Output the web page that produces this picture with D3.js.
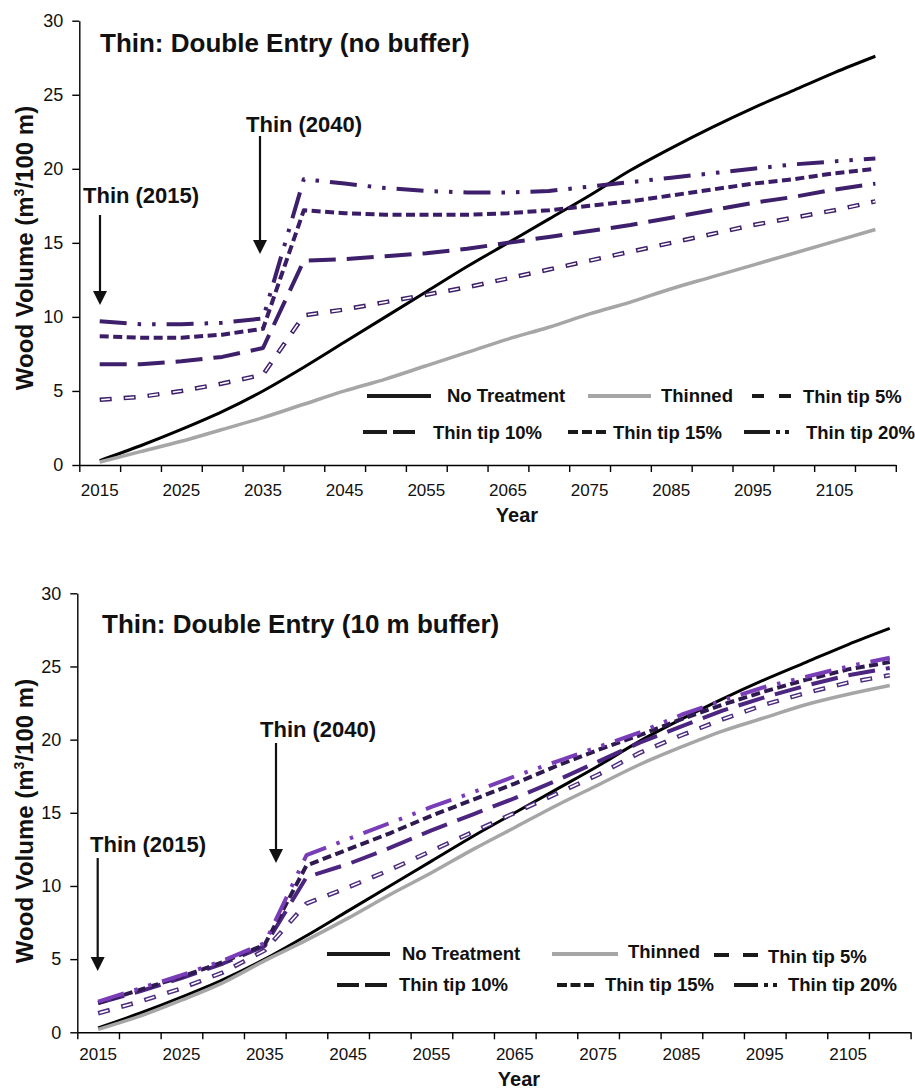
<!DOCTYPE html>
<html>
<head>
<meta charset="utf-8">
<script src="https://cdn.jsdelivr.net/npm/d3@7"></script>
<style>
  body { margin: 0; background: #fff; }
  svg { display: block; }
  text { font-family: "Liberation Sans", Arial, sans-serif; fill: #111; }
</style>
</head>
<body>
<svg id="chart" width="915" height="1089"></svg>
<script>
// ---- data ----
const years = [2015, 2020, 2025, 2030, 2035, 2040, 2045, 2050, 2055, 2060,
               2065, 2070, 2075, 2080, 2085, 2090, 2095, 2100, 2105, 2110];
const labelYears = [2015, 2025, 2035, 2045, 2055, 2065, 2075, 2085, 2095, 2105];
const yTicks = [0, 5, 10, 15, 20, 25, 30];
const seriesNames = ["No Treatment", "Thinned", "Thin tip 5%", "Thin tip 10%", "Thin tip 15%", "Thin tip 20%"];

const noTreatment = [0.3, 1.3, 2.4, 3.6, 5.0, 6.6, 8.3, 10.0, 11.7, 13.4, 15.0, 16.6, 18.2, 19.9, 21.4, 22.8, 24.1, 25.3, 26.5, 27.6];

// no buffer panel
const thinnedA = [0.2, 0.9, 1.6, 2.4, 3.2, 4.1, 5.0, 5.8, 6.7, 7.6, 8.5, 9.3, 10.2, 11.0, 11.9, 12.7, 13.5, 14.3, 15.1, 15.9];
const tip5A  = [4.4, 4.6, 5.0, 5.5, 6.1, 10.1, 10.5, 11.0, 11.5, 12.0, 12.6, 13.2, 13.8, 14.4, 15.0, 15.6, 16.2, 16.7, 17.2, 17.8];
const tip10A = [6.8, 6.8, 7.0, 7.3, 7.9, 13.8, 13.9, 14.1, 14.3, 14.6, 15.0, 15.4, 15.8, 16.2, 16.7, 17.2, 17.7, 18.1, 18.6, 19.0];
const tip15A = [8.7, 8.6, 8.6, 8.8, 9.2, 17.2, 17.0, 16.9, 16.9, 16.9, 17.0, 17.2, 17.5, 17.8, 18.2, 18.6, 19.0, 19.3, 19.7, 20.0];
const tip20A = [9.7, 9.5, 9.5, 9.6, 9.9, 19.3, 19.0, 18.7, 18.5, 18.4, 18.4, 18.5, 18.8, 19.1, 19.4, 19.7, 20.0, 20.3, 20.5, 20.7];

// 10 m buffer panel
const thinnedB = [0.2, 1.1, 2.2, 3.4, 4.9, 6.3, 7.8, 9.4, 10.9, 12.5, 14.0, 15.5, 16.9, 18.3, 19.5, 20.6, 21.5, 22.4, 23.1, 23.7];
const tip5B  = [1.3, 2.1, 3.0, 4.1, 5.6, 8.8, 9.9, 11.1, 12.4, 13.7, 15.0, 16.3, 17.6, 19.1, 20.3, 21.4, 22.4, 23.2, 23.9, 24.4];
const tip10B = [2.0, 2.8, 3.7, 4.7, 5.9, 10.6, 11.5, 12.6, 13.8, 14.9, 16.0, 17.2, 18.5, 19.8, 20.9, 22.0, 22.9, 23.7, 24.4, 24.9];
const tip15B = [2.0, 2.9, 3.8, 4.8, 6.0, 11.4, 12.5, 13.6, 14.8, 15.9, 17.0, 18.2, 19.3, 20.3, 21.4, 22.4, 23.3, 24.1, 24.8, 25.3];
const tip20B = [2.1, 3.0, 3.9, 4.9, 6.1, 12.1, 13.2, 14.3, 15.4, 16.4, 17.5, 18.5, 19.5, 20.5, 21.7, 22.7, 23.6, 24.3, 25.0, 25.6];

// ---- line styles ----
const dashes = {
  "No Treatment": null,
  "Thinned": null,
  "Thin tip 5%": "12,12",
  "Thin tip 10%": "27,11",
  "Thin tip 15%": "9,4.5",
  "Thin tip 20%": "27,11,3.5,11,3.5,11"
};
const widths = {"No Treatment": 3, "Thinned": 3.5, "Thin tip 5%": 4.5, "Thin tip 10%": 4, "Thin tip 15%": 4, "Thin tip 20%": 4};

const svg = d3.select("#chart");
const tickFont = '"Liberation Sans", Arial, sans-serif';

// draws one panel
function drawPanel(p) {
  const g = svg.append("g");

  const x = d3.scaleBand().domain(years).range([p.left, p.right]);
  const xEdges = d3.scaleLinear().domain([0, years.length]).range([p.left, p.right]);
  const y = d3.scaleLinear().domain([0, 30]).range([p.bottom, p.top]);

  // y axis
  const ya = g.append("g")
    .attr("transform", `translate(${p.left},0)`)
    .call(d3.axisLeft(y).tickValues(yTicks).tickSize(7).tickSizeOuter(0).tickPadding(9));
  ya.selectAll("text").attr("font-size", "18px").style("font-family", tickFont);

  // x axis: tick marks between categories
  g.append("g")
    .attr("transform", `translate(0,${p.bottom})`)
    .call(d3.axisBottom(xEdges).tickValues(d3.range(0, years.length + 1)).tickFormat("").tickSize(7).tickSizeOuter(0));
  // x axis labels centred on categories
  const xl = g.append("g")
    .attr("transform", `translate(0,${p.bottom})`)
    .call(d3.axisBottom(x).tickValues(labelYears).tickSize(0).tickPadding(p.labelPad));
  xl.select(".domain").remove();
  xl.selectAll("text").attr("font-size", "17px").style("font-family", tickFont);

  g.selectAll(".domain, .tick line").attr("stroke", "#000").attr("stroke-width", 1.4);
  g.selectAll(".tick text").attr("fill", "#111");

  // lines: smooth for the growth curves, straight segments for the thinning series
  const smooth = d3.line()
    .x((d, i) => x(years[i]) + x.bandwidth() / 2)
    .y(d => y(d))
    .curve(d3.curveMonotoneX);
  const straight = d3.line()
    .x((d, i) => x(years[i]) + x.bandwidth() / 2)
    .y(d => y(d));

  p.series.forEach((vals, k) => {
    const name = seriesNames[k];
    const line = k < 2 ? smooth : straight;
    const path = g.append("path")
      .attr("d", line(vals))
      .attr("fill", "none")
      .attr("stroke", p.colors[k])
      .attr("stroke-width", widths[name])
      .attr("stroke-linejoin", "round");
    if (dashes[name]) path.attr("stroke-dasharray", dashes[name]);
    if (name === "Thin tip 5%") {
      // hollow dashes
      g.append("path")
        .attr("d", line(vals))
        .attr("fill", "none")
        .attr("stroke", "#fff")
        .attr("stroke-width", 1.6)
        .attr("stroke-dasharray", "9,15")
        .attr("stroke-dashoffset", -1.5);
    }
  });

  // title
  g.append("text")
    .attr("x", p.titleX).attr("y", p.titleY)
    .attr("font-size", "26px").attr("font-weight", "bold")
    .text(p.title);

  // axis titles
  const yt = g.append("text")
    .attr("transform", `translate(33,${p.yTitleY}) rotate(-90)`)
    .attr("text-anchor", "middle")
    .attr("font-size", "24px").attr("font-weight", "bold");
  yt.append("tspan").text("Wood Volume (m");
  yt.append("tspan").attr("font-size", "14px").attr("dy", "-9").text("3");
  yt.append("tspan").attr("dy", "9").text("/100 m)");

  g.append("text")
    .attr("x", p.yearX).attr("y", p.yearY)
    .attr("text-anchor", "middle")
    .attr("font-size", "20px").attr("font-weight", "bold")
    .text("Year");

  // annotations with arrows
  p.notes.forEach(n => {
    g.append("text")
      .attr("x", n.tx).attr("y", n.ty)
      .attr("font-size", "22px").attr("font-weight", "bold")
      .text(n.label);
    g.append("line")
      .attr("x1", n.ax).attr("x2", n.ax)
      .attr("y1", n.y1).attr("y2", n.y2 - 12)
      .attr("stroke", "#111").attr("stroke-width", 2.2);
    g.append("path")
      .attr("d", `M${n.ax - 7},${n.y2 - 14}L${n.ax + 7},${n.y2 - 14}L${n.ax},${n.y2}Z`)
      .attr("fill", "#111");
  });

  // legend
  p.legend.forEach((it, k) => {
    const name = seriesNames[k];
    const s = g.append("line")
      .attr("x1", it.x1).attr("x2", it.x2)
      .attr("y1", it.ly).attr("y2", it.ly)
      .attr("stroke", name === "Thinned" ? "#a6a6a6" : "#1a1a1a")
      .attr("stroke-width", 4);
    if (it.dash) s.attr("stroke-dasharray", it.dash);
    g.append("text")
      .attr("x", it.tx).attr("y", it.ty)
      .attr("font-size", "18.5px").attr("font-weight", "bold")
      .text(name);
  });
}

drawPanel({
  left: 79.3, right: 895.8, top: 20.7, bottom: 465,
  series: [noTreatment, thinnedA, tip5A, tip10A, tip15A, tip20A],
  colors: ["#000", "#a6a6a6", "#3d1f6b", "#3d1f6b", "#3b1c66", "#3d1f6b"],
  title: "Thin: Double Entry (no buffer)", titleX: 100, titleY: 52,
  labelPad: 19, yTitleY: 248, yearX: 517, yearY: 522,
  notes: [
    {label: "Thin (2015)", tx: 83, ty: 203, ax: 100, y1: 215, y2: 305},
    {label: "Thin (2040)", tx: 246, ty: 132, ax: 260, y1: 136, y2: 254}
  ],
  legend: [
    {x1: 367, x2: 431, ly: 396, tx: 447, ty: 402},
    {x1: 588, x2: 651, ly: 396, tx: 661, ty: 402},
    {x1: 752, x2: 792, ly: 396, tx: 803, ty: 403, dash: "12,15"},
    {x1: 363, x2: 415, ly: 432, tx: 433, ty: 439, dash: "24,6"},
    {x1: 568, x2: 606, ly: 432, tx: 613, ty: 439, dash: "10,4"},
    {x1: 744, x2: 790, ly: 432, tx: 806, ty: 439, dash: "26,6,4,5,4,10"}
  ]
});

drawPanel({
  left: 77.3, right: 910.6, top: 593.3, bottom: 1032.3,
  series: [noTreatment, thinnedB, tip5B, tip10B, tip15B, tip20B],
  colors: ["#000", "#a6a6a6", "#4b2c7f", "#4b2580", "#2f1a4f", "#7a3db8"],
  title: "Thin: Double Entry (10 m buffer)", titleX: 102, titleY: 633,
  labelPad: 16, yTitleY: 821, yearX: 519, yearY: 1086,
  notes: [
    {label: "Thin (2015)", tx: 90, ty: 852, ax: 97.7, y1: 858, y2: 971},
    {label: "Thin (2040)", tx: 260, ty: 737, ax: 276, y1: 743, y2: 863}
  ],
  legend: [
    {x1: 327, x2: 390, ly: 954, tx: 402, ty: 960},
    {x1: 552, x2: 618, ly: 954, tx: 628, ty: 958},
    {x1: 714, x2: 758, ly: 955, tx: 768, ty: 963, dash: "15,14"},
    {x1: 337, x2: 388, ly: 985, tx: 399, ty: 991, dash: "22,6"},
    {x1: 557, x2: 594, ly: 985, tx: 605, ty: 991, dash: "10,3.5"},
    {x1: 734, x2: 779, ly: 985, tx: 788, ty: 991, dash: "24,6,4,5,4,10"}
  ]
});
</script>
</body>
</html>
